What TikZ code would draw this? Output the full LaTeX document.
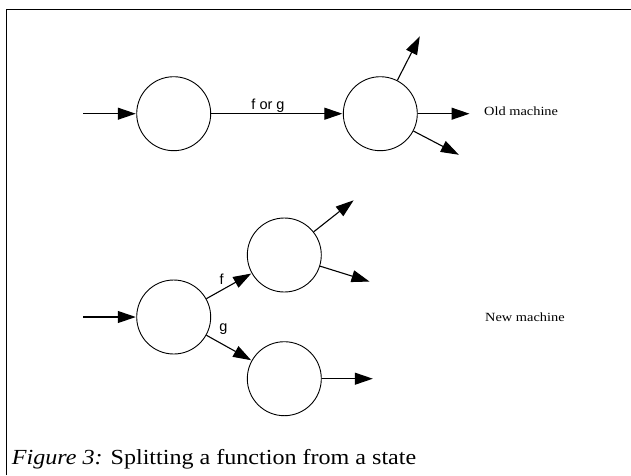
\documentclass[tikz,border=0pt]{standalone}
\usepackage{fontspec}
\setmainfont{Liberation Serif}
\newfontfamily\lblfont{Liberation Sans}
\usetikzlibrary{arrows.meta}
\tikzset{
  state/.style={circle, draw, line width=0.9pt, minimum size=74pt, inner sep=0pt},
  conn/.style={line width=1.1pt, -{Triangle[length=18pt,width=12pt]}, shorten >=0.5pt},
  lbl/.style={font=\lblfont\fontsize{14.5}{16}\selectfont, inner sep=0pt, anchor=base},
  serif/.style={font=\fontsize{12.5}{14}\selectfont, inner sep=0pt, anchor=base west},
  frame/.style={line width=1.3pt}
}
\begin{document}
\begin{tikzpicture}[x=1pt,y=-1pt]
\useasboundingbox (0,0) rectangle (631,475);
\draw[frame] (6.7,475) -- (6.7,9.3) -- (631,9.3);

% old machine
\node[state] (A) at (173.7,113.7) {};
\node[state] (B) at (380.3,113.7) {};
\coordinate (inA) at (83,113.7);
\coordinate (b1) at (420,36);
\coordinate (b2) at (470,113.7);
\coordinate (b3) at (459.3,155);
\draw[conn] (inA) -- (A);
\draw[conn] (A) -- (B);
\draw[conn] (B) -- (b1);
\draw[conn] (B) -- (b2);
\draw[conn] (B) -- (b3);
\node[lbl] (forg) at (268,109) {f or g};
\node[serif] (old) at (484,115.7) {\scalebox{1.15}[1]{Old machine}};

% new machine
\node[state] (C) at (173.7,317) {};
\node[state] (D) at (284.3,255) {};
\node[state] (E) at (284.3,378.7) {};
\coordinate (inC) at (83,317);
\coordinate (d1) at (354,200);
\coordinate (d2) at (370,281.7);
\coordinate (e1) at (373.3,378.7);
\draw[conn] (inC) -- (C);
\draw[conn] (C) -- (D);
\draw[conn] (C) -- (E);
\draw[conn] (D) -- (d1);
\draw[conn] (D) -- (d2);
\draw[conn] (E) -- (e1);
\node[lbl] (lf) at (221.7,284.4) {f};
\node[lbl] (lg) at (223.3,331) {g};
\node[serif] (new) at (485,321) {\scalebox{1.15}[1]{New machine}};

% caption
\node[font=\fontsize{21.5}{24}\selectfont, inner sep=0pt, anchor=base west] (cap) at (11.7,464)
  {\scalebox{1.12}[1]{\textit{Figure 3:} Splitting a function from a state}};
\end{tikzpicture}
\end{document}
